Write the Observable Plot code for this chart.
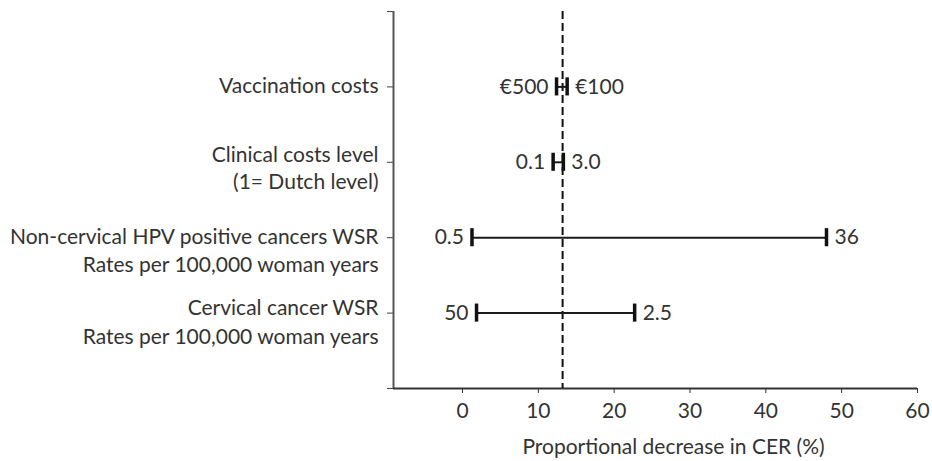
<!DOCTYPE html>
<html>
<head>
<meta charset="utf-8">
<script src="https://cdn.jsdelivr.net/npm/d3@7"></script>
<script src="https://cdn.jsdelivr.net/npm/@observablehq/plot@0.6"></script>
<style>
  html, body { margin: 0; padding: 0; background: #fff; }
  #chart svg { display: block; }
</style>
</head>
<body>
<div id="chart"></div>
<script>
// ---- data ----
const categories = ["Vaccination costs", "Clinical costs level", "Non-cervical HPV positive cancers WSR", "Cervical cancer WSR"];
const subLabels = ["", "(1= Dutch level)", "Rates per 100,000 woman years", "Rates per 100,000 woman years"];
const lowValues = [12.4, 11.95, 1.25, 1.85];
const highValues = [13.8, 13.3, 48.0, 22.7];
const lowLabels = ["€500", "0.1", "0.5", "50"];
const highLabels = ["€100", "3.0", "36", "2.5"];
const baseline = [13.2];
const xTicks = [0, 10, 20, 30, 40, 50, 60];
const xLabel = "Proportional decrease in CER (%)";

const n = categories.length;
const rows = categories.map((c, i) => ({
  cat: c, sub: subLabels[i], pos: n - i,
  low: lowValues[i], high: highValues[i],
  lowLabel: lowLabels[i], highLabel: highLabels[i]
}));

const xMin = -9.1;
const font = "Lato, 'Open Sans', sans-serif";
const fs = 21;
const textColor = "#333";
const line1Dy = [-1, -7, 0, -5];
const line2Dy = [0, 20, 28, 24];

const labelMarks = [];
rows.forEach((r, i) => {
  labelMarks.push(Plot.text([r], {x: () => xMin, y: "pos", text: "cat", textAnchor: "end", dx: -15, dy: line1Dy[i], fontSize: fs, fill: textColor}));
  if (r.sub) labelMarks.push(Plot.text([r], {x: () => xMin, y: "pos", text: "sub", textAnchor: "end", dx: -15, dy: line2Dy[i], fontSize: fs, fill: textColor}));
});

const chart = Plot.plot({
  width: 932,
  height: 461,
  marginLeft: 393,
  marginRight: 15,
  marginTop: 11,
  marginBottom: 73,
  style: {fontFamily: font, fontSize: fs + "px", color: textColor, background: "#fff", overflow: "visible"},
  x: {domain: [xMin, 60]},
  y: {domain: [0, 5]},
  marks: [
    Plot.axisX({ticks: xTicks, tickSize: 5, tickPadding: 10, stroke: "#333", fontSize: fs, fill: textColor, label: null}),
    Plot.text([xLabel], {frameAnchor: "bottom", lineAnchor: "middle", dx: 18, dy: 59, fontSize: fs, fill: textColor}),
    Plot.axisY({ticks: [0, 1, 2, 3, 4, 5], tickSize: 6, tickFormat: () => "", stroke: "#444", label: null}),
    Plot.ruleX([xMin], {stroke: "#555", strokeWidth: 2}),
    Plot.ruleY([0], {stroke: "#333", strokeWidth: 2}),
    Plot.ruleX(baseline, {stroke: "#111", strokeWidth: 2, strokeDasharray: "8,4"}),
    Plot.ruleY(rows, {y: "pos", x1: "low", x2: "high", stroke: "#1a1a1a", strokeWidth: 2}),
    Plot.ruleX(rows, {x: "low", y1: d => d.pos - 0.12, y2: d => d.pos + 0.12, stroke: "#111", strokeWidth: 3.5}),
    Plot.ruleX(rows, {x: "high", y1: d => d.pos - 0.12, y2: d => d.pos + 0.12, stroke: "#111", strokeWidth: 3.5}),
    Plot.text(rows, {x: "low", y: "pos", text: "lowLabel", textAnchor: "end", dx: -8, fontSize: fs, fill: textColor}),
    Plot.text(rows, {x: "high", y: "pos", text: "highLabel", textAnchor: "start", dx: 8, fontSize: fs, fill: textColor}),
    ...labelMarks
  ]
});
document.getElementById("chart").appendChild(chart);
</script>
</body>
</html>
